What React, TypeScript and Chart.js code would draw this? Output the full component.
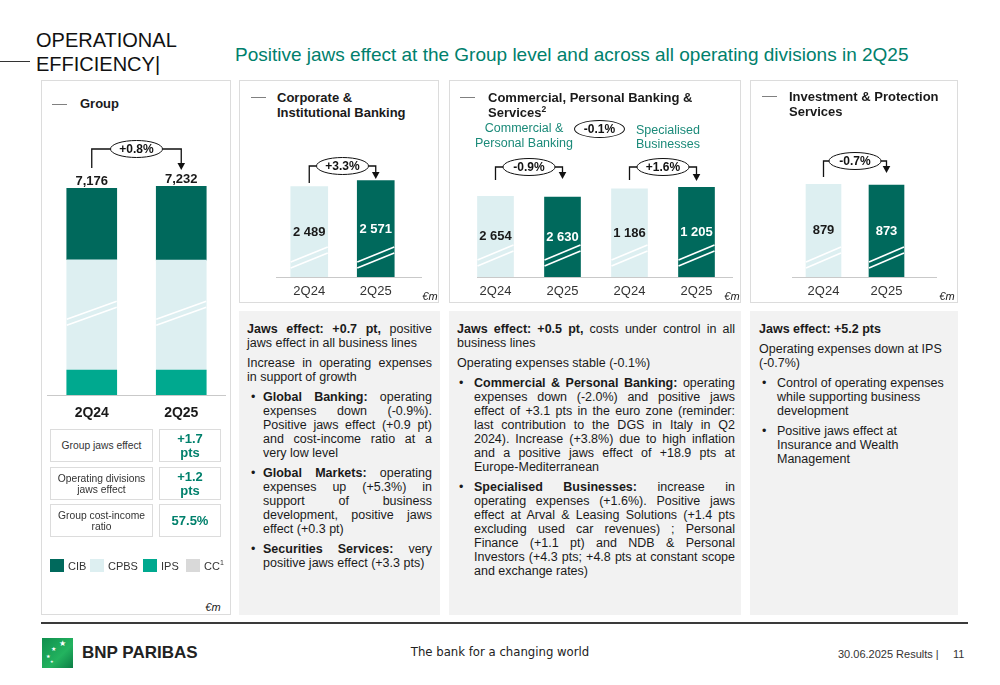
import React, { useEffect, useRef } from 'react';
import { Chart, registerables } from 'chart.js';
Chart.register(...registerables);

const FONT = '"Liberation Sans", Arial, Helvetica, sans-serif';
Chart.defaults.font.family = FONT;

// ---------- data ----------
const periods = ['2Q24', '2Q25'];
const cpbsPeriods = ['2Q24', '2Q25', '2Q24', '2Q25'];
const groupIPS = [879, 873];
const groupCPBS = [3840, 3835];
const groupCIB = [2489, 2571];
const groupTotals = [7176, 7232];
const groupJaws = '+0.8%';
const cibValues = [2489, 2571];
const cibJaws = '+3.3%';
const cpbValues = [2654, 2630];
const cpbJaws = '-0.9%';
const sbValues = [1186, 1205];
const sbJaws = '+1.6%';
const cpbsJaws = '-0.1%';
const ipsValues = [879, 873];
const ipsJaws = '-0.7%';
const tableLabels = ['Group jaws effect', 'Operating divisions jaws effect', 'Group cost-income ratio'];
const tableValues = [['+1.7', 'pts'], ['+1.2', 'pts'], ['57.5%']];
const legendNames = ['CIB', 'CPBS', 'IPS', 'CC'];

// ---------- styles ----------
const DARK = '#00695c';
const LIGHT = '#ddeff1';
const IPSC = '#00a98f';
const CCC = '#d9d9d9';
const GREEN_TXT = '#00806c';
const TEAL_TXT = '#1b8a79';
const TXT = '#1a1a1a';

const fmtSpace = (v: number) => String(v).replace(/\B(?=(\d{3})+(?!\d))/g, ' ');
const fmtComma = (v: number) => String(v).replace(/\B(?=(\d{3})+(?!\d))/g, ',');

type Bracket = { a: [number, number]; b: [number, number]; text: string; lineY: number; startY: number; tipY: number };
type Deco = {
  extL?: number;
  extR?: number;
  breaks?: { ds: number[]; off: number; rise: number };
  inner?: { ds: number; colors: string[] }[];
  totals?: { ds: number; values: number[] };
  brackets?: Bracket[];
};

function decoPlugin(d: Deco) {
  return {
    id: 'deco',
    afterDatasetsDraw(chart: any) {
      const ctx: CanvasRenderingContext2D = chart.ctx;
      const a = chart.chartArea;
      const bar = (ds: number, j: number) => {
        const el = chart.getDatasetMeta(ds).data[j];
        return el.getProps(['x', 'y', 'base', 'width'], true);
      };
      const has = (ds: number, j: number) => chart.data.datasets[ds].data[j] != null;
      ctx.save();
      // baseline
      ctx.strokeStyle = '#c9c9c9';
      ctx.lineWidth = 1;
      ctx.beginPath();
      ctx.moveTo(a.left + (d.extL || 0), Math.round(a.bottom) + 0.5);
      ctx.lineTo(a.right + (d.extR || 0), Math.round(a.bottom) + 0.5);
      ctx.stroke();
      // break marks
      if (d.breaks) {
        const { ds, off, rise } = d.breaks;
        ctx.strokeStyle = '#ffffff';
        ctx.lineWidth = 1.6;
        ds.forEach((i) => {
          chart.data.datasets[i].data.forEach((_: any, j: number) => {
            if (!has(i, j)) return;
            const p = bar(i, j);
            const x0 = p.x - p.width / 2;
            const x1 = p.x + p.width / 2;
            const cy = a.bottom - off;
            [-3, 3].forEach((k) => {
              ctx.beginPath();
              ctx.moveTo(x0, cy + k + rise / 2);
              ctx.lineTo(x1, cy + k - rise / 2);
              ctx.stroke();
            });
          });
        });
      }
      // inner value labels
      ctx.textAlign = 'center';
      ctx.textBaseline = 'middle';
      (d.inner || []).forEach(({ ds, colors }) => {
        chart.data.datasets[ds].data.forEach((v: any, j: number) => {
          if (v == null) return;
          const p = bar(ds, j);
          const base = Math.min(p.base, a.bottom);
          ctx.fillStyle = colors[j];
          ctx.font = `bold 13px ${FONT}`;
          ctx.fillText(fmtSpace(v), p.x, (p.y + base) / 2);
        });
      });
      // totals
      if (d.totals) {
        const { ds, values } = d.totals;
        values.forEach((v, j) => {
          const p = bar(ds, j);
          ctx.fillStyle = TXT;
          ctx.font = `bold 13px ${FONT}`;
          ctx.fillText(fmtComma(v), p.x, p.y - 7);
        });
      }
      // jaws brackets
      (d.brackets || []).forEach((b) => {
        const xa = bar(b.a[0], b.a[1]).x;
        const xb = bar(b.b[0], b.b[1]).x;
        const cx = (xa + xb) / 2;
        const rx = 26;
        const ry = 8.5;
        ctx.strokeStyle = '#111';
        ctx.lineWidth = 1.3;
        ctx.beginPath();
        ctx.moveTo(xa, b.startY);
        ctx.lineTo(xa, b.lineY);
        ctx.lineTo(cx - rx, b.lineY);
        ctx.moveTo(cx + rx, b.lineY);
        ctx.lineTo(xb, b.lineY);
        ctx.lineTo(xb, b.tipY - 6);
        ctx.stroke();
        ctx.fillStyle = '#111';
        ctx.beginPath();
        ctx.moveTo(xb - 3.8, b.tipY - 7);
        ctx.lineTo(xb + 3.8, b.tipY - 7);
        ctx.lineTo(xb, b.tipY);
        ctx.closePath();
        ctx.fill();
        ctx.beginPath();
        ctx.ellipse(cx, b.lineY, rx, ry, 0, 0, Math.PI * 2);
        ctx.fillStyle = '#fff';
        ctx.fill();
        ctx.lineWidth = 1;
        ctx.stroke();
        ctx.fillStyle = '#111';
        ctx.font = `bold 12px ${FONT}`;
        ctx.fillText(b.text, cx, b.lineY + 0.5);
      });
      ctx.restore();
    },
  };
}

const xAxis = (size: number, bold: boolean, pad: number) => ({
  grid: { display: false, drawTicks: false },
  border: { display: false },
  ticks: {
    color: bold ? TXT : '#333',
    font: { family: FONT, size, weight: bold ? 'bold' : 'normal' },
    padding: pad,
    maxRotation: 0,
    autoSkip: false,
  },
});

const baseOpts = (extR: number) => ({
  responsive: false,
  animation: false,
  events: [],
  layout: { padding: { left: 0, right: extR, top: 0, bottom: 0 } },
  plugins: { legend: { display: false }, tooltip: { enabled: false } },
});

function ChartBox({ left, top, width, height, make }: any) {
  const ref = useRef<HTMLCanvasElement>(null);
  useEffect(() => {
    const c = new Chart(ref.current as HTMLCanvasElement, make());
    return () => c.destroy();
  }, []);
  return (
    <div style={{ position: 'absolute', left, top, width, height }}>
      <canvas ref={ref} width={width} height={height} style={{ width, height, display: 'block' }} />
    </div>
  );
}

const makeGroup = () => ({
  type: 'bar',
  data: {
    labels: periods,
    datasets: [
      { label: 'IPS', data: groupIPS, backgroundColor: IPSC, barThickness: 50 },
      { label: 'CPBS', data: groupCPBS, backgroundColor: LIGHT, barThickness: 50 },
      { label: 'CIB', data: groupCIB, backgroundColor: DARK, barThickness: 50 },
    ],
  },
  options: {
    ...baseOpts(0),
    scales: {
      x: { ...xAxis(14, true, 10), stacked: true },
      y: { display: false, stacked: true, min: 0, max: 9590 },
    },
  },
  plugins: [
    decoPlugin({
      breaks: { ds: [1], off: 82, rise: 18 },
      totals: { ds: 2, values: groupTotals },
      brackets: [{ a: [2, 0], b: [2, 1], text: groupJaws, lineY: 29, startY: 48, tipY: 50 }],
    }),
  ],
});

const makeSimple = (values: number[], min: number, max: number, jaws: string, thick: number, extR: number, br: { lineY: number; startY: number; tipY: number }) => () => ({
  type: 'bar',
  data: {
    labels: periods,
    datasets: [{ data: values, backgroundColor: [LIGHT, DARK], barThickness: thick }],
  },
  options: {
    ...baseOpts(extR),
    scales: { x: xAxis(13, false, 6), y: { display: false, min, max } },
  },
  plugins: [
    decoPlugin({
      extR,
      breaks: { ds: [0], off: 20, rise: 15 },
      inner: [{ ds: 0, colors: [TXT, '#ffffff'] }],
      brackets: [{ a: [0, 0], b: [0, 1], text: jaws, ...br }],
    }),
  ],
});

const makeCPBS = () => ({
  type: 'bar',
  data: {
    labels: cpbsPeriods,
    datasets: [
      { data: [cpbValues[0], cpbValues[1], null, null], backgroundColor: [LIGHT, DARK, LIGHT, DARK], barThickness: 36, grouped: false, yAxisID: 'y' },
      { data: [null, null, sbValues[0], sbValues[1]], backgroundColor: [LIGHT, DARK, LIGHT, DARK], barThickness: 36, grouped: false, yAxisID: 'y2' },
    ],
  },
  options: {
    ...baseOpts(3),
    scales: {
      x: xAxis(13, false, 6),
      y: { display: false, min: 0, max: 4535 },
      y2: { display: false, min: 0, max: 1853 },
    },
  },
  plugins: [
    decoPlugin({
      extL: 15,
      extR: 3,
      breaks: { ds: [0, 1], off: 22, rise: 15 },
      inner: [
        { ds: 0, colors: [TXT, '#ffffff', TXT, '#ffffff'] },
        { ds: 1, colors: [TXT, '#ffffff', TXT, '#ffffff'] },
      ],
      brackets: [
        { a: [0, 0], b: [0, 1], text: cpbJaws, lineY: 28, startY: 41, tipY: 40 },
        { a: [1, 2], b: [1, 3], text: sbJaws, lineY: 28, startY: 41, tipY: 42 },
      ],
    }),
  ],
});

function Txt({ x, y, children, size = 13, weight = 'normal', color = TXT, align = 'left', italic = false, lh }: any) {
  const lineH = lh || Math.round(size * 1.2);
  const style: any = {
    position: 'absolute',
    top: y - lineH / 2,
    fontSize: size,
    lineHeight: `${lineH}px`,
    fontWeight: weight,
    fontStyle: italic ? 'italic' : 'normal',
    color,
    whiteSpace: 'nowrap',
  };
  if (align === 'center') {
    style.left = x - 200;
    style.width = 400;
    style.textAlign = 'center';
  } else if (align === 'right') {
    style.left = x - 400;
    style.width = 400;
    style.textAlign = 'right';
  } else {
    style.left = x;
  }
  return <div style={style}>{children}</div>;
}

const Box = ({ l, t, w, h, bg = '#fff', border = '1px solid #dcdcdc', children, style }: any) => (
  <div style={{ position: 'absolute', left: l, top: t, width: w, height: h, background: bg, border, boxSizing: 'border-box', ...style }}>{children}</div>
);

const Dash = ({ x, y }: any) => <div style={{ position: 'absolute', left: x, top: y, width: 15, height: 1, background: '#808080' }} />;

function Para({ children, justify = true }: any) {
  return <div style={{ margin: '0 0 6px 0', textAlign: justify ? 'justify' : 'left' }}>{children}</div>;
}
function Bullet({ children, bx, indent, justify = true }: any) {
  return (
    <div style={{ position: 'relative', paddingLeft: indent, margin: '0 0 6px 0', textAlign: justify ? 'justify' : 'left' }}>
      <span style={{ position: 'absolute', left: bx, top: 0 }}>•</span>
      {children}
    </div>
  );
}

const textBoxStyle = (pl: number, pr: number): any => ({
  padding: `11px ${pr}px 0 ${pl}px`,
  fontSize: 12.5,
  lineHeight: '14px',
  color: TXT,
});

const supStyle: any = { fontSize: 8.5, lineHeight: 0, verticalAlign: 'super' };

export default function App() {
  return (
    <div style={{ position: 'absolute', left: 0, top: 0, width: 1000, height: 685, background: '#fff', overflow: 'hidden', fontFamily: FONT }}>
      {/* header */}
      <div style={{ position: 'absolute', left: 0, top: 61, width: 30, height: 1, background: '#333' }} />
      <Txt x={36} y={40} size={20} lh={24} color="#111">OPERATIONAL</Txt>
      <Txt x={36} y={64} size={20} lh={24} color="#111">EFFICIENCY|</Txt>
      <Txt x={235} y={54} size={19} lh={23} color={GREEN_TXT}>Positive jaws effect at the Group level and across all operating divisions in 2Q25</Txt>

      {/* group panel */}
      <Box l={41} t={80} w={190} h={535} />
      <Dash x={52} y={104} />
      <Txt x={80} y={104} size={13} weight="bold">Group</Txt>
      <ChartBox left={47} top={120} width={179} height={312} make={makeGroup} />
      {tableLabels.map((lab, i) => {
        const t = [429, 467, 504][i];
        return (
          <React.Fragment key={lab}>
            <Box l={50} t={t} w={103} h={33} style={{ display: 'flex', alignItems: 'center', justifyContent: 'center', textAlign: 'center', fontSize: 10.3, lineHeight: '11px', color: '#333', padding: '0 4px' }}>
              {lab}
            </Box>
            <Box l={159} t={t} w={62} h={33} style={{ display: 'flex', alignItems: 'center', justifyContent: 'center', textAlign: 'center', fontSize: 13, lineHeight: '14px', fontWeight: 'bold', color: GREEN_TXT }}>
              <div>{tableValues[i].map((v, k) => <div key={k}>{v}</div>)}</div>
            </Box>
          </React.Fragment>
        );
      })}
      {legendNames.map((n, i) => {
        const sx = [50, 90, 143, 186][i];
        const col = [DARK, LIGHT, IPSC, CCC][i];
        return (
          <React.Fragment key={n}>
            <div style={{ position: 'absolute', left: sx, top: 559, width: 14, height: 13, background: col }} />
            <Txt x={sx + 18} y={566} size={11} color="#333">
              {n}
              {n === 'CC' ? <sup style={{ ...supStyle, fontSize: 7 }}>1</sup> : null}
            </Txt>
          </React.Fragment>
        );
      })}
      <Txt x={213} y={607} size={11} italic align="center">€m</Txt>

      {/* CIB panel */}
      <Box l={239} t={80} w={200} h={223} />
      <Dash x={251} y={97} />
      <Txt x={277} y={97} size={13} weight="bold" lh={15}>Corporate &amp;</Txt>
      <Txt x={277} y={112} size={13} weight="bold" lh={15}>Institutional Banking</Txt>
      <ChartBox left={276} top={139} width={146} height={166} make={makeSimple(cibValues, 1250, 3140, cibJaws, 37, 13, { lineY: 27, startY: 44, tipY: 40 })} />
      <Txt x={430} y={296} size={11} italic align="center">€m</Txt>

      {/* CPBS panel */}
      <Box l={449} t={80} w={292} h={223} />
      <Dash x={460} y={97} />
      <Txt x={488} y={97} size={13} weight="bold" lh={15}>Commercial, Personal Banking &amp;</Txt>
      <Txt x={488} y={112} size={13} weight="bold" lh={15}>
        Services<sup style={supStyle}>2</sup>
      </Txt>
      <Txt x={524} y={128} size={12.5} color={TEAL_TXT} align="center" lh={15}>Commercial &amp;</Txt>
      <Txt x={524} y={143} size={12.5} color={TEAL_TXT} align="center" lh={15}>Personal Banking</Txt>
      <Txt x={668} y={130} size={12.5} color={TEAL_TXT} align="center" lh={15}>Specialised</Txt>
      <Txt x={668} y={144} size={12.5} color={TEAL_TXT} align="center" lh={15}>Businesses</Txt>
      <div style={{ position: 'absolute', left: 574, top: 120, width: 51, height: 18, border: '1px solid #111', borderRadius: '50%', boxSizing: 'border-box', display: 'flex', alignItems: 'center', justifyContent: 'center', fontSize: 12, fontWeight: 'bold', color: '#111' }}>
        {cpbsJaws}
      </div>
      <ChartBox left={462} top={139} width={271} height={166} make={makeCPBS} />
      <Txt x={732} y={296} size={11} italic align="center">€m</Txt>

      {/* IPS panel */}
      <Box l={750} t={80} w={208} h={223} />
      <Dash x={762} y={96} />
      <Txt x={789} y={96} size={13} weight="bold" lh={15}>Investment &amp; Protection</Txt>
      <Txt x={789} y={111} size={13} weight="bold" lh={15}>Services</Txt>
      <ChartBox left={792} top={139} width={145} height={166} make={makeSimple(ipsValues, 0, 1308, ipsJaws, 35, 19, { lineY: 22, startY: 38, tipY: 34 })} />
      <Txt x={947} y={296} size={11} italic align="center">€m</Txt>

      {/* text boxes */}
      <Box l={239} t={311} w={201} h={304} bg="#f2f2f2" border="none" style={textBoxStyle(8, 8)}>
        <Para><b>Jaws effect: +0.7 pt,</b> positive jaws effect in all business lines</Para>
        <Para>Increase in operating expenses in support of growth</Para>
        <Bullet bx={4} indent={16}><b>Global Banking:</b> operating expenses down (-0.9%). Positive jaws effect (+0.9 pt) and cost-income ratio at a very low level</Bullet>
        <Bullet bx={4} indent={16}><b>Global Markets:</b> operating expenses up (+5.3%) in support of business development, positive jaws effect (+0.3 pt)</Bullet>
        <Bullet bx={4} indent={16}><b>Securities Services:</b> very positive jaws effect (+3.3 pts)</Bullet>
      </Box>
      <Box l={449} t={311} w={292} h={304} bg="#f2f2f2" border="none" style={textBoxStyle(8, 6)}>
        <Para><b>Jaws effect: +0.5 pt,</b> costs under control in all business lines</Para>
        <Para>Operating expenses stable (-0.1%)</Para>
        <Bullet bx={2} indent={17}><b>Commercial &amp; Personal Banking:</b> operating expenses down (-2.0%) and positive jaws effect of +3.1 pts in the euro zone (reminder: last contribution to the DGS in Italy in Q2 2024). Increase (+3.8%) due to high inflation and a positive jaws effect of +18.9 pts at Europe-Mediterranean</Bullet>
        <Bullet bx={2} indent={17}><b>Specialised Businesses:</b> increase in operating expenses (+1.6%). Positive jaws effect at Arval &amp; Leasing Solutions (+1.4 pts excluding used car revenues) ; Personal Finance (+1.1 pt) and NDB &amp; Personal Investors (+4.3 pts; +4.8 pts at constant scope and exchange rates)</Bullet>
      </Box>
      <Box l={750} t={311} w={208} h={304} bg="#f2f2f2" border="none" style={textBoxStyle(9, 13)}>
        <Para justify={false}><b>Jaws effect: +5.2 pts</b></Para>
        <Para justify={false}>Operating expenses down at IPS (-0.7%)</Para>
        <Bullet bx={3} indent={18} justify={false}>Control of operating expenses while supporting business development</Bullet>
        <Bullet bx={3} indent={18} justify={false}>Positive jaws effect at Insurance and Wealth Management</Bullet>
      </Box>

      {/* footer */}
      <div style={{ position: 'absolute', left: 41, top: 622, width: 927, height: 2, background: '#3a3a3a' }} />
      <div style={{ position: 'absolute', left: 42, top: 638, width: 31, height: 30, background: 'linear-gradient(135deg, #0f8f4e 0%, #23b35f 60%, #0c7d45 100%)' }}>
        <span style={{ position: 'absolute', left: 17, top: 1, color: '#fff', fontSize: 8 }}>★</span>
        <span style={{ position: 'absolute', left: 9, top: 7, color: '#fff', fontSize: 6 }}>★</span>
        <span style={{ position: 'absolute', left: 4, top: 15, color: '#fff', fontSize: 5 }}>★</span>
        <span style={{ position: 'absolute', left: 8, top: 21, color: '#fff', fontSize: 4 }}>★</span>
      </div>
      <Txt x={82} y={653} size={17} weight="bold" color="#222">BNP PARIBAS</Txt>
      <Txt x={500} y={652} size={13} align="center" color="#222">
        <span style={{ fontFamily: '"DejaVu Sans Condensed", "DejaVu Sans", sans-serif' }}>The bank for a changing world</span>
      </Txt>
      <Txt x={838} y={654} size={11} color="#333">30.06.2025 Results |</Txt>
      <Txt x={953} y={654} size={11} color="#333">11</Txt>
    </div>
  );
}
